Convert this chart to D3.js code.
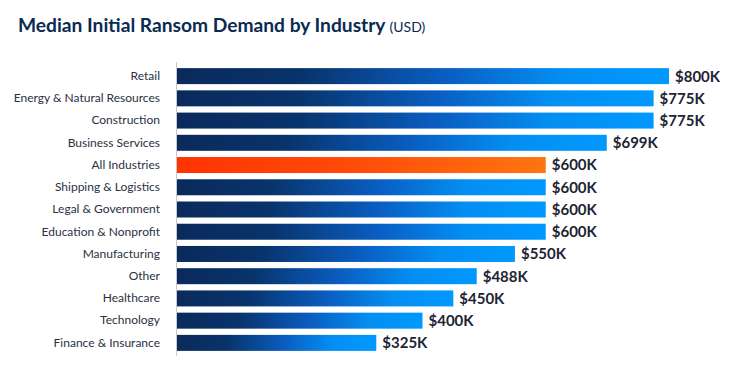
<html>
<head>
	<meta charset="UTF-8">
	<title>Median Initial Ransom Demand by Industry</title>
	<style>
		body { margin: 0; background: #fff; }
		text { font-family: Lato, "Open Sans", sans-serif; }
	</style>
</head>
<body>
	<script src="https://cdnjs.cloudflare.com/ajax/libs/d3/7.8.5/d3.min.js"></script>
	<script>
		var industries = ["Retail", "Energy & Natural Resources", "Construction", "Business Services",
			"All Industries", "Shipping & Logistics", "Legal & Government", "Education & Nonprofit",
			"Manufacturing", "Other", "Healthcare", "Technology", "Finance & Insurance"];
		var demands = [800, 775, 775, 699, 600, 600, 600, 600, 550, 488, 450, 400, 325];
		var highlight = "All Industries";

		var W = 732, H = 367;
		var margin = {top: 65, left: 176};

		var svg = d3.select("body").append("svg")
			.attr("width", W)
			.attr("height", H);

		var defs = svg.append("defs");
		var blue = defs.append("linearGradient").attr("id", "gBlue");
		blue.append("stop").attr("offset", "0%").attr("stop-color", "#0b2a5c");
		blue.append("stop").attr("offset", "25%").attr("stop-color", "#08336b");
		blue.append("stop").attr("offset", "55%").attr("stop-color", "#0a5ec2");
		blue.append("stop").attr("offset", "78%").attr("stop-color", "#048ef2");
		blue.append("stop").attr("offset", "100%").attr("stop-color", "#0099ff");
		var orange = defs.append("linearGradient").attr("id", "gOrange");
		orange.append("stop").attr("offset", "0%").attr("stop-color", "#ff3400");
		orange.append("stop").attr("offset", "45%").attr("stop-color", "#ff4a08");
		orange.append("stop").attr("offset", "100%").attr("stop-color", "#ff7510");

		var x = d3.scaleLinear()
			.domain([0, 800])
			.range([0, 493]);
		var y = d3.scaleBand()
			.domain(industries)
			.range([0, 289])
			.paddingInner(0.28)
			.paddingOuter(0.14);

		// title
		var title = svg.append("text")
			.attr("x", 18)
			.attr("y", 32)
			.attr("fill", "#0b2a52");
		title.append("tspan")
			.attr("font-size", 19.2)
			.attr("font-weight", 700)
			.text("Median Initial Ransom Demand by Industry");
		title.append("tspan")
			.attr("dx", 4)
			.attr("font-size", 14)
			.text("(USD)");

		var g = svg.append("g")
			.attr("transform", "translate(" + margin.left + "," + margin.top + ")");

		g.selectAll(".bar")
			.data(industries)
			.enter().append("rect")
			.attr("class", "bar")
			.attr("x", 0)
			.attr("y", function(d) { return y(d); })
			.attr("width", function(d, i) { return x(demands[i]); })
			.attr("height", y.bandwidth())
			.attr("fill", function(d) { return d === highlight ? "url(#gOrange)" : "url(#gBlue)"; });

		g.selectAll(".val")
			.data(industries)
			.enter().append("text")
			.attr("class", "val")
			.attr("x", function(d, i) { return x(demands[i]) + 6; })
			.attr("y", function(d) { return y(d) + y.bandwidth() / 2; })
			.attr("dy", "0.36em")
			.attr("font-size", 15)
			.attr("font-weight", 700)
			.attr("fill", "#1e2433")
			.text(function(d, i) { return "$" + demands[i] + "K"; });

		var axis = g.append("g")
			.call(d3.axisLeft(y).tickSize(0).tickPadding(16));
		axis.select(".domain")
			.attr("stroke", "#c8c8c8")
			.attr("d", "M0.5,-3V291");
		axis.selectAll("text")
			.attr("font-family", "Lato, sans-serif")
			.attr("font-size", 12)
			.attr("fill", "#2a3142");
	</script>
</body>
</html>
